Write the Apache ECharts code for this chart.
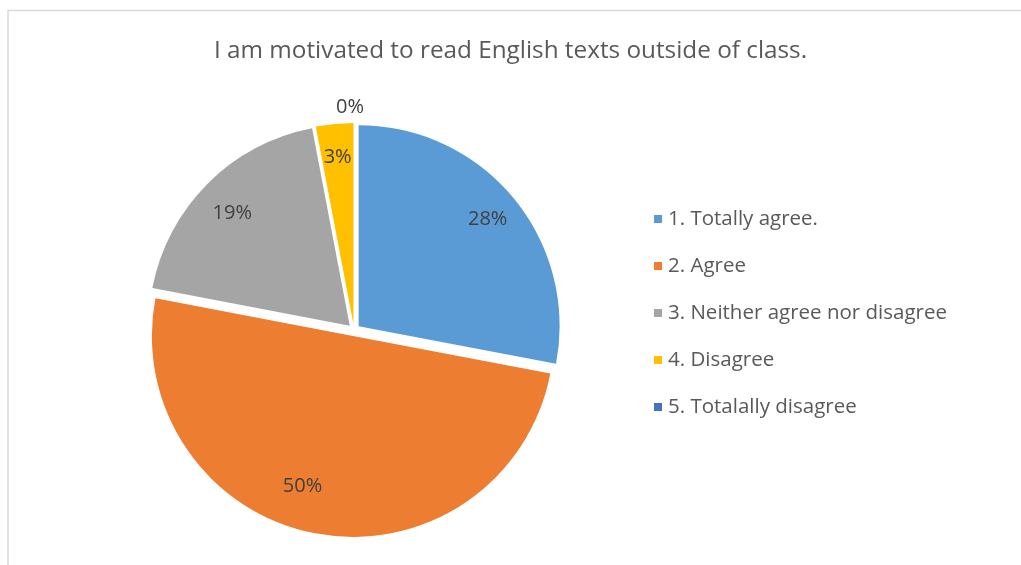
<!DOCTYPE html>
<html>
<head>
<meta charset="utf-8">
<title>I am motivated to read English texts outside of class.</title>
<script src="https://cdn.jsdelivr.net/npm/echarts@6/dist/echarts.min.js"></script>
<style>
  html, body { margin: 0; padding: 0; background: #ffffff; }
  #chart { width: 1021px; height: 565px; }
</style>
</head>
<body>
<div id="chart"></div>
<script>
// Survey answers (percent of respondents)
const categories = [
  '1. Totally agree.',
  '2. Agree',
  '3. Neither agree nor disagree',
  '4. Disagree',
  '5. Totalally disagree'
];
const values = [28, 50, 19, 3, 0];
const colors = ['#5B9BD5', '#ED7D31', '#A5A5A5', '#FFC000', '#4472C4'];

const FONT = '"Open Sans", Lato, sans-serif';
const CENTER = [354, 330];
const RADIUS = 201;
const EXPLODE = 6;

// Nudges for data labels that don't sit on the slice bisector
const labelShift = { 1: [-19, -14], 2: [1, 6], 4: [-4, -49] };

const sliceData = categories.map((name, i) => ({
  name,
  value: values[i],
  selected: true,
  itemStyle: { color: colors[i] }
}));

const labelData = categories.map((name, i) => ({
  name,
  value: values[i],
  selected: true
}));

const chart = echarts.init(document.getElementById('chart'), null, { renderer: 'canvas' });

chart.setOption({
  animation: false,
  backgroundColor: '#ffffff',
  graphic: [{
    type: 'rect',
    silent: true,
    shape: { x: 8, y: 10.5, width: 1100, height: 700 },
    style: { fill: 'none', stroke: '#d9d9d9', lineWidth: 1.5 }
  }],
  title: {
    text: 'I am motivated to read English texts outside of class.',
    left: 'center',
    top: 34,
    textStyle: { fontFamily: FONT, fontSize: 24.3, fontWeight: 'normal', color: '#595959' }
  },
  legend: {
    orient: 'vertical',
    left: 649,
    top: 203,
    data: categories,
    icon: 'rect',
    itemWidth: 8,
    itemHeight: 8,
    itemGap: 25,
    selectedMode: false,
    textStyle: { fontFamily: FONT, fontSize: 20.5, lineHeight: 22, color: '#595959', padding: [0, 0, 0, 1] }
  },
  series: [
    {
      type: 'pie',
      center: CENTER,
      radius: RADIUS,
      startAngle: 90,
      clockwise: true,
      selectedMode: 'multiple',
      selectedOffset: EXPLODE,
      label: { show: false },
      labelLine: { show: false },
      emphasis: { disabled: true },
      select: { itemStyle: { borderWidth: 0 } },
      silent: true,
      data: sliceData
    },
    {
      type: 'pie',
      center: CENTER,
      radius: [128, RADIUS],
      startAngle: 90,
      clockwise: true,
      selectedMode: 'multiple',
      selectedOffset: EXPLODE,
      percentPrecision: 0,
      itemStyle: { color: 'rgba(0,0,0,0)' },
      label: {
        show: true,
        position: 'inside',
        formatter: '{d}%',
        fontFamily: FONT,
        fontSize: 20,
        color: '#404040'
      },
      labelLine: { show: false },
      labelLayout: function (params) {
        const s = labelShift[params.dataIndex];
        return s ? { dx: s[0], dy: s[1] } : {};
      },
      emphasis: { disabled: true },
      select: { itemStyle: { color: 'rgba(0,0,0,0)' } },
      silent: true,
      data: labelData
    }
  ]
});
</script>
</body>
</html>
